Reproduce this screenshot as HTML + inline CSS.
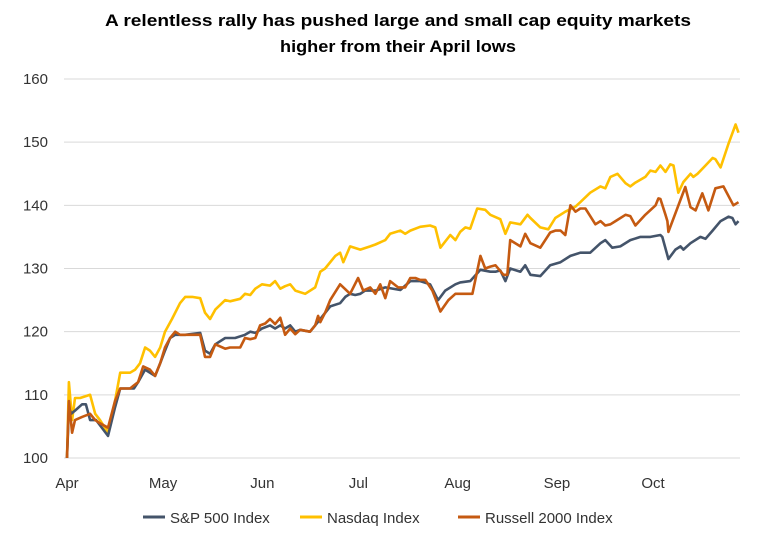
<!DOCTYPE html>
<html><head><meta charset="utf-8">
<style>
body{margin:0;background:#fff;width:763px;height:532px;overflow:hidden;font-family:"Liberation Sans",sans-serif;}
svg text{font-family:"Liberation Sans",sans-serif;}
</style></head>
<body>
<svg id="chart" width="763" height="532">
<text x="398" y="26" text-anchor="middle" font-size="17" font-weight="bold" fill="#000" textLength="586" lengthAdjust="spacingAndGlyphs">A relentless rally has pushed large and small cap equity markets</text>
<text x="398" y="52" text-anchor="middle" font-size="17" font-weight="bold" fill="#000" textLength="236" lengthAdjust="spacingAndGlyphs">higher from their April lows</text>
<g id="grid"></g><g id="ylab"></g><g id="xlab"></g><g id="lines"></g><g id="legend"></g>
</svg>
<script>
const yTicks=[100,110,120,130,140,150,160];
const monthLabels=["Apr","May","Jun","Jul","Aug","Sep","Oct"];
const monthDays=[0,30,61,91,122,153,183];
const spDays=[0,0.6,1.3,2.5,4.7,5.9,7.2,9.1,12.8,15,16.6,19.7,20.9,22.2,24.4,25.9,27.5,29.1,30.6,32.2,33.8,35.3,36.9,41.6,43.1,44.7,46.3,49.4,52.5,55.6,57.2,58.8,60.9,63.4,65,66.6,68.1,69.7,71.3,72.8,75.9,79.1,82.2,85.3,86.9,88.4,90,91.6,93.1,96.3,99.4,104.1,107.2,110.3,113.4,115.9,118.1,121.3,122.8,125.9,129.1,132.2,133.8,135.3,136.9,138.4,141.6,143.1,144.7,147.8,150.9,154.1,157.2,160.3,163.4,166.6,168.1,170.3,172.8,175.9,179.1,182.2,185.3,185.9,187.8,190,191.6,192.5,194.7,197.8,199.4,201.6,204.1,206.6,207.8,208.8,209.7];
const spVals=[100,108,107,107.5,108.5,108.5,106,106,103.5,108,111,111,111,112,114,113.5,113,115,117,119,119.5,119.5,119.5,119.8,117,116.5,118,119,119,119.5,120,119.8,120.5,121,120.5,121,120.5,121,120,120.3,120,122,124,124.5,125.5,126,125.8,126,126.5,126.5,127,126.6,128,128,127.5,125,126.5,127.5,127.8,128,129.8,129.5,129.5,129.7,128,130,129.5,130.5,129,128.8,130.5,131,132,132.5,132.5,134,134.5,133.3,133.5,134.5,135,135,135.3,135,131.5,133,133.5,133,134,135,134.7,136,137.5,138.2,138,137,137.5];
const ndDays=[0,0.6,1.6,2.5,4.1,7.2,8.8,10.3,12.8,15,16.6,19.7,21.3,22.8,24.4,25.9,27.5,29.1,30.6,32.8,35.3,36.9,39.1,41.6,43.1,44.7,46.3,49.4,50.9,54.1,55.6,57.2,58.8,60.9,63.4,65,66.6,68.1,69.7,71.3,74.4,77.5,79.1,80.6,83.8,85.3,86.3,88.4,91.6,94.7,96.3,99.4,100.9,104.1,105.6,107.2,110.3,113.4,115,116.6,119.7,121.3,122.8,124.4,125.9,128.1,130.6,132.2,135.3,136.9,138.4,141.6,143.8,144.7,147.8,150.3,152.5,155.6,158.8,160.3,163.4,166.6,168.1,169.7,171.9,174.4,175.9,177.5,180.6,182.2,183.8,185.3,186.9,188.4,189.4,190.9,192.5,194.7,195.6,196.9,199.4,201.6,202.5,204.1,206.6,208.8,209.7];
const ndVals=[100,112,106,109.5,109.5,110,107,106,104,109,113.5,113.5,114,115,117.5,117,116,117.5,120,122,124.5,125.5,125.5,125.3,123,122,123.5,125,124.8,125.2,126,125.8,126.8,127.5,127.3,128,126.8,127.2,127.5,126.5,126,127,129.5,130,132,132.5,131,133.5,133,133.5,133.8,134.5,135.5,136,135.5,136,136.6,136.8,136.5,133.3,135.3,134.5,135.8,136.5,136.3,139.5,139.3,138.5,137.8,135.5,137.3,137,138.5,138,136.5,136.2,138,139,139.8,140.5,142,143,142.7,144.5,145,143.5,143,143.6,144.5,145.5,145.3,146.3,145.3,146.5,146.3,142,143.7,145,144.5,145,146.3,147.5,147.3,146,149.8,152.8,151.5];
const ruDays=[0,0.6,1.6,2.5,4.7,7.2,8.8,10.3,12.8,15,16.6,19.7,20.9,22.2,23.8,25.9,27.5,29.1,30.6,32.2,33.8,35.3,36.9,41.6,43.1,44.7,46.3,49.4,50.9,54.1,55.6,57.2,58.8,60.3,61.9,63.4,65,66.6,68.1,69.7,71.3,72.8,75.9,77.5,78.4,79.1,80.6,82.2,85.3,88.4,90.9,92.5,94.7,96.3,97.8,99.4,100.9,103.4,105.6,107.2,108.8,110.3,111.9,114.1,116.6,119.1,121.3,124.4,126.6,129.1,130.6,132.2,133.8,136.3,137.5,138.4,141.6,143.1,144.7,147.8,150.9,152.5,154.1,155.6,157.2,158.8,160.3,161.9,163.4,165,166.6,168.1,169.7,171.3,174.4,175.9,177.5,180.6,183.8,184.7,185.3,186.9,187.5,187.8,193.1,194.7,196.3,198.4,200.3,202.5,205,208.1,209.7];
const ruVals=[100,109,104,106,106.5,107,106,105.5,104.8,109,111,111,111.5,112,114.5,114,113,115,117.5,119,120,119.5,119.5,119.5,116,116,118,117.3,117.5,117.5,119,118.8,119,121,121.3,122,121.2,122.2,119.5,120.5,119.6,120.3,120,121,122.5,121.5,123,125,127.5,126,128.5,126.5,127,126,127.5,125.3,128,127,127,128.5,128.5,128.2,128.2,126.5,123.2,125,126,126,126,132,130,130.3,130.5,129,129,134.5,133.5,135.5,134,133.3,135.7,136,136,135.3,140,139,139.5,139.5,138.3,137,137.5,136.8,137,137.5,138.5,138.3,136.8,138.5,140,141.1,141,138.5,137.5,135.8,142.9,139.7,139.2,141.9,139.2,142.7,143,140,140.5];
const seriesNames=["S&P 500 Index","Nasdaq Index","Russell 2000 Index"];
const seriesColors=["#44546a","#ffc000","#c55a11"];

const NS="http://www.w3.org/2000/svg";
const X0=67,X1=653,Y0=458,Y1=79;
function xScale(d){return X0+(d-monthDays[0])*(X1-X0)/(monthDays[6]-monthDays[0]);}
function yScale(v){return Y0-(v-100)*(Y0-Y1)/60;}
function mk(tag,attrs,parent){const e=document.createElementNS(NS,tag);for(const k in attrs)e.setAttribute(k,attrs[k]);parent.appendChild(e);return e;}
const grid=document.getElementById('grid'),ylab=document.getElementById('ylab'),xlab=document.getElementById('xlab'),lines=document.getElementById('lines'),legend=document.getElementById('legend');
yTicks.forEach(t=>{
  const l=mk('line',{x1:64,x2:740,y1:yScale(t),y2:yScale(t),stroke:'#d9d9d9','stroke-width':1},grid);
  
  
  const tx=mk('text',{x:48,y:yScale(t)+5,'text-anchor':'end','font-size':15,fill:'#333'},ylab);
  tx.textContent=t;
  
  
});
monthLabels.forEach((m,i)=>{
  const tx=mk('text',{x:xScale(monthDays[i]),y:488,'text-anchor':'middle','font-size':15,fill:'#333'},xlab);
  tx.textContent=m;
  
  
});
const all=[[spDays,spVals],[ndDays,ndVals],[ruDays,ruVals]];
const order=[1,0,2];
order.forEach(i=>{
  const [d,v]=all[i];
  const pts=d.map((dd,j)=>xScale(dd).toFixed(1)+','+yScale(v[j]).toFixed(1)).join(' ');
  const p=mk('polyline',{points:pts,fill:'none',stroke:seriesColors[i],'stroke-width':2.6,'stroke-linejoin':'round'},lines);
  
  
});
const legX=[143,300,458];
seriesNames.forEach((n,i)=>{
  const g=mk('g',{},legend);
  
  
  mk('line',{x1:legX[i],x2:legX[i]+22,y1:517,y2:517,stroke:seriesColors[i],'stroke-width':3},g);
  const t=mk('text',{x:legX[i]+27,y:523,'font-size':15,fill:'#333'},g);
  t.textContent=n;
});
</script>
</body></html>
